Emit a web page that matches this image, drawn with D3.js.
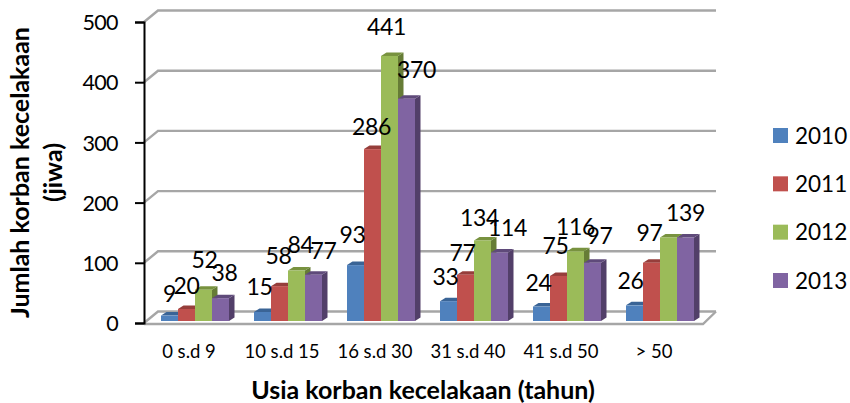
<!DOCTYPE html>
<html><head><meta charset="utf-8">
<script src="https://cdnjs.cloudflare.com/ajax/libs/d3/7.8.5/d3.min.js"></script>
<style>html,body{margin:0;padding:0;background:#fff}svg{display:block}text{font-family:Lato,"Open Sans",sans-serif;fill:#000}</style>
</head><body><svg id="c" width="850" height="403"></svg>
<script>
const categories = ["0 s.d 9","10 s.d 15","16 s.d 30","31 s.d 40","41 s.d 50","> 50"];
const seriesNames = ["2010","2011","2012","2013"];
const v2010 = [9,15,93,33,24,26];
const v2011 = [20,58,286,77,75,97];
const v2012 = [52,84,441,134,116,139];
const v2013 = [38,77,370,114,97,139];
const yTicks = [0,100,200,300,400,500];
const faceColors = ["#4F81BD","#C0504D","#9BBB59","#8064A2"];
const topColors = ["#3A6496","#963E3B","#78923F","#5F4A7A"];
const sideColors = ["#335782","#7F3432","#667C36","#523F69"];
// hand-placed label nudges [dx, dy above bar top], per series and category; null = label hidden
const labelNudge2010 = [[0,20],[-3,23],[-3,28],[-3,22],[-3,22],[-4,23]];
const labelNudge2011 = [[0,21],[-1,28],[-1,20],[-3,20],[-3,28],[-2,28]];
const labelNudge2012 = [[1,28],[4,24],[-3,27],[-3,21],[0,23],null];
const labelNudge2013 = [[4,23],[10,22],[10,27],[8,23],[7,25],[0,23]];

const values = [v2010,v2011,v2012,v2013];
const nudges = [labelNudge2010,labelNudge2011,labelNudge2012,labelNudge2013];
const svg = d3.select("#c");

const y = d3.scaleLinear().domain([0,500]).range([321,20.5]);
const yAxisScale = d3.scaleLinear().domain([0,500]).range([323,22]);
const x0 = d3.scaleBand().domain(categories).range([161,694]).paddingInner(25/93).paddingOuter(0);
const x1 = d3.scaleBand().domain(seriesNames).range([0,x0.bandwidth()]);
const depthX = 5.5, depthY = 3.5;
const wallX = 14, wallY = 11.5, wallRight = 716, floorRight = 703;
const grey = "#A6A6A6";

// walls: gridlines and floor
const gw = svg.append("g");
yTicks.forEach(t=>{
  const py = yAxisScale(t);
  gw.append("path").attr("fill","none").attr("stroke",grey).attr("stroke-width",2.4)
    .attr("d",`M144,${py}L${144+wallX},${py-wallY}L${wallRight},${py-wallY}`);
});
gw.append("path").attr("fill","none").attr("stroke",grey).attr("stroke-width",2.4)
  .attr("d",`M144,${yAxisScale(0)+1}L${floorRight},${yAxisScale(0)+1}L${wallRight},${yAxisScale(0)-wallY}`);

// y axis
const ax = svg.append("g").attr("transform","translate(144,0)")
  .call(d3.axisLeft(yAxisScale).tickValues(yTicks).tickSize(9).tickPadding(17).tickSizeOuter(9));
ax.selectAll("path,line").attr("stroke","#000").attr("stroke-width",2);
ax.selectAll("text").style("font-size","21.5px").style("font-family","Lato").style("letter-spacing","-0.6px").attr("dy","0.36em");

// bars
seriesNames.forEach((s,si)=>{
  const g = svg.append("g");
  const data = categories.map((c,i)=>({c,v:values[si][i]}));
  const bar = g.selectAll("g").data(data).join("g");
  const L = d=>x0(d.c)+x1(s), R = d=>L(d)+x1.bandwidth(), T = d=>y(d.v), B = y(0);
  bar.append("path").attr("fill",sideColors[si])
    .attr("d",d=>`M${R(d)},${T(d)}L${R(d)+depthX},${T(d)-depthY}L${R(d)+depthX},${B-depthY}L${R(d)},${B}Z`);
  bar.append("path").attr("fill",topColors[si])
    .attr("d",d=>`M${L(d)},${T(d)}L${L(d)+depthX},${T(d)-depthY}L${R(d)+depthX},${T(d)-depthY}L${R(d)},${T(d)}Z`);
  bar.append("rect").attr("fill",faceColors[si])
    .attr("x",L).attr("y",T).attr("width",x1.bandwidth()).attr("height",d=>B-T(d));
});

// value labels
seriesNames.forEach((s,si)=>{
  categories.forEach((c,i)=>{
    const n = nudges[si][i];
    if(!n) return;
    svg.append("text").attr("text-anchor","middle")
      .attr("x",x0(c)+x1(s)+x1.bandwidth()/2+n[0])
      .attr("y",y(values[si][i])-n[1]-2).attr("dy","0.36em")
      .style("font-size","23px").style("letter-spacing","-0.3px").text(values[si][i]);
  });
});

// category labels
categories.forEach(c=>{
  svg.append("text").attr("text-anchor","middle")
    .attr("x",x0(c)+x0.bandwidth()/2-6).attr("y",351).attr("dy","0.36em")
    .style("font-size","18.5px").text(c);
});

// titles
svg.append("text").attr("text-anchor","middle").attr("x",423).attr("y",390).attr("dy","0.36em")
  .style("font-size","25px").style("font-weight","700").text("Usia korban kecelakaan (tahun)");
const yt = svg.append("g").attr("transform","translate(0,172.5) rotate(-90)");
yt.append("text").attr("text-anchor","middle").attr("y",20).attr("dy","0.36em")
  .style("font-size","25px").style("font-weight","700").text("Jumlah korban kecelakaan");
yt.append("text").attr("text-anchor","middle").attr("y",53).attr("dy","0.36em")
  .style("font-size","25px").style("font-weight","700").text("(jiwa)");

// legend
const legY = d3.scalePoint().domain(seriesNames).range([135.5,280.5]);
seriesNames.forEach((s,i)=>{
  svg.append("rect").attr("x",773).attr("y",legY(s)-7.5).attr("width",15).attr("height",15).attr("fill",faceColors[i]);
  svg.append("text").attr("x",795).attr("y",legY(s)).attr("dy","0.36em").style("font-size","22.5px").text(s);
});
</script></body></html>
